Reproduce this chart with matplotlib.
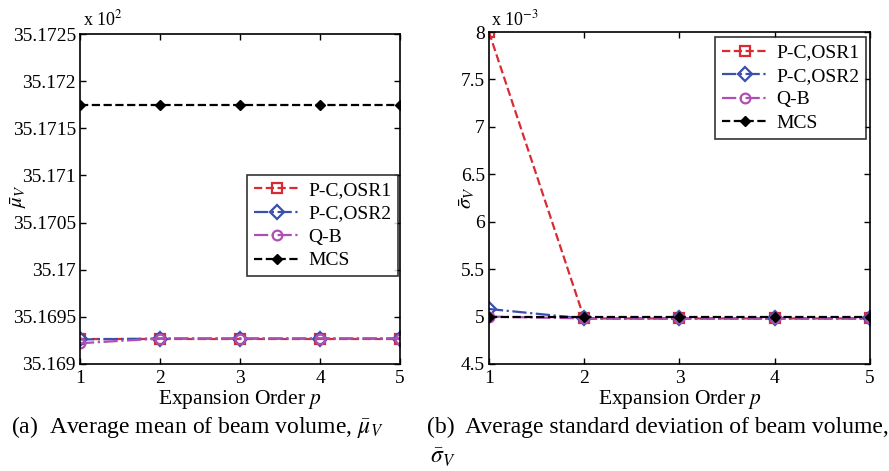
import matplotlib.pyplot as plt
import numpy as np

plt.rcParams['font.family'] = 'Liberation Serif'
plt.rcParams['mathtext.fontset'] = 'stix'

# expansion order
p = [1, 2, 3, 4, 5]

# (a) average mean of beam volume (values x 10^2)
mean_osr1 = [35.16927, 35.16927, 35.16927, 35.16927, 35.16927]
mean_osr2 = [35.16926, 35.16927, 35.16927, 35.16927, 35.16927]
mean_qb = [35.16922, 35.16927, 35.16927, 35.16927, 35.16927]
mean_mcs = [35.171745, 35.171745, 35.171745, 35.171745, 35.171745]

# (b) average standard deviation of beam volume (values x 10^-3)
std_osr1 = [8.0, 4.98, 4.98, 4.98, 4.98]
std_osr2 = [5.08, 4.98, 4.98, 4.98, 4.98]
std_qb = [5.0, 4.98, 4.98, 4.98, 4.98]
std_mcs = [5.0, 5.0, 5.0, 5.0, 5.0]

labels = ['P-C,OSR1', 'P-C,OSR2', 'Q-B', 'MCS']
colors = ['#d92b34', '#3a4fae', '#b04fb2', 'black']
styles = ['--', '-.', '-.', '--']
markers = ['s', 'D', 'o', 'D']

fig = plt.figure(figsize=(8.89, 4.71), dpi=100)
ax1 = fig.add_axes([0.090, 0.2272, 0.360, 0.7006])
ax2 = fig.add_axes([0.550, 0.2272, 0.4286, 0.7048])


def draw(ax, series, loc, anchor):
    for ys, lab, c, ls, m in zip(series, labels, colors, styles, markers):
        if lab == 'MCS':
            ax.plot(p, ys, ls, color=c, lw=1.6, marker=m, ms=5,
                    mfc=c, mec=c, label=lab)
        else:
            ax.plot(p, ys, ls, color=c, lw=1.6, marker=m, ms=7,
                    mfc='none', mec=c, mew=1.6, label=lab)
    ax.set_xlim(1, 5)
    ax.set_xticks(p)
    ax.tick_params(direction='in', top=True, right=True, length=4,
                   labelsize=14, width=1, pad=3)
    ax.tick_params(axis='x', pad=4)
    for s in ax.spines.values():
        s.set_linewidth(1.2)
    ax.set_xlabel(r'Expansion Order $p$', fontsize=15.5, labelpad=1)
    leg = ax.legend(fontsize=14, handlelength=2.4, fancybox=False,
                    edgecolor='black', borderpad=0.35, labelspacing=0.3,
                    handletextpad=0.4, loc=loc, bbox_to_anchor=anchor,
                    borderaxespad=0.0)
    leg.get_frame().set_linewidth(1.2)
    return leg


draw(ax1, [mean_osr1, mean_osr2, mean_qb, mean_mcs], 'center right', (0.995, 0.42))
ax1.set_ylim(35.169, 35.1725)
ax1.set_yticks(np.arange(35.169, 35.17251, 0.0005))
ax1.set_yticklabels(['35.169', '35.1695', '35.17', '35.1705', '35.171',
                     '35.1715', '35.172', '35.1725'])
ax1.set_ylabel(r'$\bar{\mu}_V$', fontsize=15)
ax1.yaxis.set_label_coords(-0.16, 0.51)
ax1.text(0.01, 1.025, r'x 10$^{2}$', transform=ax1.transAxes, fontsize=13)

draw(ax2, [std_osr1, std_osr2, std_qb, std_mcs], 'upper right', (0.99, 0.985))
ax2.set_ylim(4.5, 8)
ax2.set_yticks([4.5, 5, 5.5, 6, 6.5, 7, 7.5, 8])
ax2.set_yticklabels(['4.5', '5', '5.5', '6', '6.5', '7', '7.5', '8'])
ax2.set_ylabel(r'$\bar{\sigma}_V$', fontsize=15)
ax2.yaxis.set_label_coords(-0.03, 0.5)
ax2.text(0.005, 1.02, r'x 10$^{-3}$', transform=ax2.transAxes, fontsize=13)

fig.text(0.012, 0.08, r'(a)  Average mean of beam volume, $\bar{\mu}_V$', fontsize=17)
fig.text(0.48, 0.08, r'(b)  Average standard deviation of beam volume,', fontsize=17)
fig.text(0.484, 0.015, r'$\bar{\sigma}_V$', fontsize=17)

fig.savefig('out.png', dpi=100)
